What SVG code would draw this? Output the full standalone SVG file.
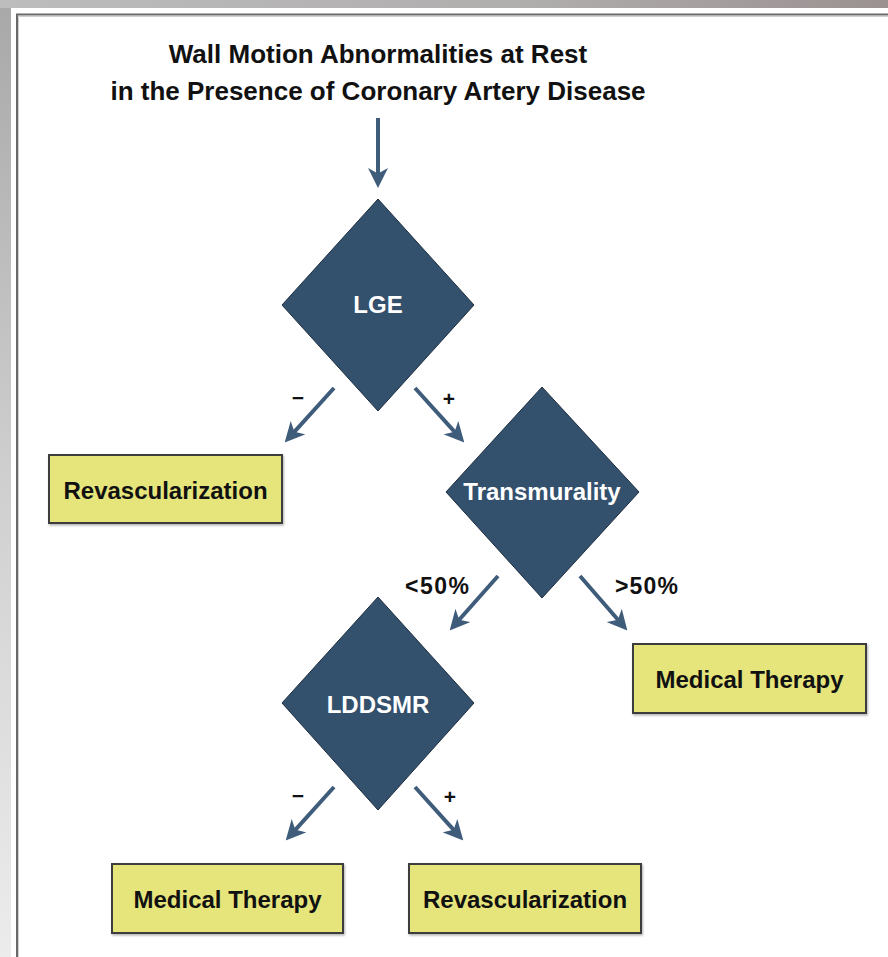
<svg xmlns="http://www.w3.org/2000/svg" width="888" height="957" viewBox="0 0 888 957">
<defs>
<linearGradient id="gTop" x1="0" y1="0" x2="1" y2="0">
<stop offset="0" stop-color="#bdbdbd"/>
<stop offset="0.6" stop-color="#b0adad"/>
<stop offset="1" stop-color="#9b9191"/>
</linearGradient>
<linearGradient id="gLeft" x1="0" y1="0" x2="0" y2="1">
<stop offset="0" stop-color="#a8a8a8"/>
<stop offset="0.5" stop-color="#cfcfcf"/>
<stop offset="1" stop-color="#ececec"/>
</linearGradient>
<marker id="ah" markerUnits="userSpaceOnUse" markerWidth="20" markerHeight="20" viewBox="0 0 18 18" refX="9" refY="9" orient="auto">
<path d="M0,0 L18,9 L0,18 L5,9 z" fill="#3f5d7b"/>
</marker>
<filter id="sh" x="-5%" y="-5%" width="110%" height="115%">
<feDropShadow dx="1" dy="1.5" stdDeviation="1" flood-color="#000" flood-opacity="0.3"/>
</filter>
</defs>
<style>
.title{font-family:"Liberation Sans",Arial,sans-serif;font-weight:bold;font-size:26px;fill:#111;text-anchor:middle}
.dia{fill:#33506d;stroke:#1e2f40;stroke-width:1}
.dlab{font-family:"Liberation Sans",Arial,sans-serif;font-weight:bold;font-size:24px;fill:#fff;text-anchor:middle}
.box{fill:#e6e57c;stroke:#3c3c3c;stroke-width:2}
.blab{font-family:"Liberation Sans",Arial,sans-serif;font-weight:bold;font-size:24px;fill:#111;text-anchor:middle}
.arr{stroke:#3f5d7b;stroke-width:4;fill:none;marker-end:url(#ah)}
.elab{font-family:"Liberation Sans",Arial,sans-serif;font-weight:bold;font-size:23px;fill:#111}
.sign{font-family:"Liberation Sans",Arial,sans-serif;font-weight:bold;font-size:21px;fill:#111;text-anchor:middle}
</style>
<rect x="0" y="0" width="888" height="957" fill="url(#gLeft)"/>
<rect x="0" y="0" width="888" height="8" fill="url(#gTop)"/>
<rect x="11" y="8" width="877" height="949" fill="#ffffff"/>
<path d="M17,957 L17,14.5 L888,14.5" fill="none" stroke="#6a6a6a" stroke-width="2"/>
<path d="M18.5,957 L18.5,16.5 L888,16.5" fill="none" stroke="#d0d0d0" stroke-width="1"/>

<g id="title">
<text class="title" x="378" y="63">Wall Motion Abnormalities at Rest</text>
<text class="title" x="378" y="100">in the Presence of Coronary Artery Disease</text>
</g>

<g id="node-lge">
<polygon class="dia" points="378,199 474,305 378,411 282,305"/>
<text class="dlab" x="378" y="313">LGE</text>
</g>
<g id="node-transmurality">
<polygon class="dia" points="542,387 639,492 542,598 446,492"/>
<text class="dlab" x="542" y="500">Transmurality</text>
</g>
<g id="node-lddsmr">
<polygon class="dia" points="378,597 474,703 378,810 282,703"/>
<text class="dlab" x="378" y="713">LDDSMR</text>
</g>
<g id="node-revasc1">
<rect class="box" x="49" y="455" width="233" height="68" filter="url(#sh)"/>
<text class="blab" x="165.5" y="499">Revascularization</text>
</g>
<g id="node-medical1">
<rect class="box" x="633" y="644" width="233" height="69" filter="url(#sh)"/>
<text class="blab" x="749.5" y="688">Medical Therapy</text>
</g>
<g id="node-medical2">
<rect class="box" x="112" y="864" width="231" height="69" filter="url(#sh)"/>
<text class="blab" x="227.5" y="908">Medical Therapy</text>
</g>
<g id="node-revasc2">
<rect class="box" x="409" y="864" width="232" height="69" filter="url(#sh)"/>
<text class="blab" x="525" y="908">Revascularization</text>
</g>

<g id="connectors">
<path class="arr" d="M378,118 L378,178"/>
<path class="arr" d="M334,388 L291.4,435.1"/>
<path class="arr" d="M415,388 L457.6,435.1"/>
<path class="arr" d="M498,576 L456.3,623"/>
<path class="arr" d="M580,576 L620.8,623"/>
<path class="arr" d="M334,787 L292.4,833.1"/>
<path class="arr" d="M415,787 L456.6,833.1"/>
<text class="sign" x="298" y="405">−</text>
<text class="sign" x="449" y="406">+</text>
<text class="elab" x="405" y="594" textLength="64" lengthAdjust="spacing">&lt;50%</text>
<text class="elab" x="615" y="594" textLength="63" lengthAdjust="spacing">&gt;50%</text>
<text class="sign" x="298" y="803">−</text>
<text class="sign" x="450" y="804">+</text>
</g>
</svg>
